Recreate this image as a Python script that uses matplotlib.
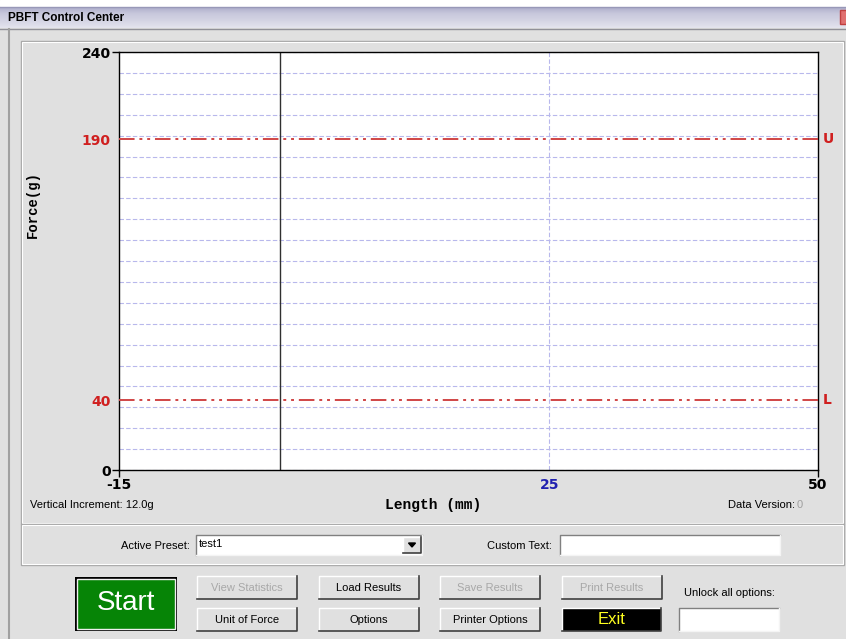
import numpy as np
import matplotlib.pyplot as plt
from matplotlib.patches import Rectangle, Polygon
from matplotlib.colors import LinearSegmentedColormap

# chart values
x_min, x_max = -15, 50
y_min, y_max = 0, 240
vertical_increment = 12
upper_limit = 190
lower_limit = 40
zero_line = 0
marker_x = 25
y_tick_values = [0, 40, 190, 240]
y_tick_colors = ['black', '#d02020', '#d02020', 'black']
x_tick_values = [-15, 25, 50]
x_tick_colors = ['black', '#2020b0', 'black']

W, H = 846, 639
BG = '#e0e0e0'

fig = plt.figure(figsize=(W / 100, H / 100), dpi=100, facecolor=BG)

# window chrome, drawn in pixel coordinates
bg = fig.add_axes([0, 0, 1, 1], zorder=0)
bg.set_xlim(0, W)
bg.set_ylim(H, 0)
bg.axis('off')

title_cmap = LinearSegmentedColormap.from_list(
    'title', ['#a8a8c8', '#c8c8dc', '#d4d4e4', '#e4e4ee'])
grad = np.linspace(0, 1, 50).reshape(-1, 1)
bg.imshow(grad, extent=[0, W, 28, 6], cmap=title_cmap, aspect='auto', zorder=1)
bg.add_patch(Rectangle((0, 0), W, 6, color='white', zorder=1))
bg.plot([0, W], [6.5, 6.5], color='#9898b8', lw=1, zorder=2)
bg.plot([0, W], [28.5, 28.5], color='#909098', lw=1, zorder=2)
bg.text(8, 18, 'PBFT Control Center', fontsize=8.5, fontweight='bold',
        family='Liberation Sans', va='center', ha='left', color='black', zorder=3)
bg.add_patch(Rectangle((840, 10), 8, 14, fc='#e07070', ec='#c04040', zorder=3))

# outer borders
bg.plot([9, 9], [29, H], color='#a0a0a0', lw=1.5)
bg.add_patch(Rectangle((20.5, 40.5), 823, 483, fill=False, ec='#a8a8a8', lw=1))
bg.add_patch(Rectangle((21.5, 41.5), 821, 481, fill=False, ec='white', lw=0.8))
bg.add_patch(Rectangle((20.5, 523.5), 823, 41, fill=False, ec='#a8a8a8', lw=1))
bg.add_patch(Rectangle((21.5, 524.5), 821, 39, fill=False, ec='white', lw=0.8))

ui_font = 'Liberation Sans'

bg.text(30, 505, 'Vertical Increment: %.1fg' % vertical_increment, fontsize=8,
        family=ui_font, va='center', ha='left')
bg.text(795, 505, 'Data Version:', fontsize=8, family=ui_font, va='center', ha='right')
bg.text(797, 505, '0', fontsize=8, family=ui_font, va='center', ha='left', color='#a0a0a0')


def sunken(x, y, w, h):
    bg.add_patch(Rectangle((x, y), w, h, fc='white', ec='none'))
    bg.plot([x, x, x + w], [y + h, y, y], color='#808080', lw=1)
    bg.plot([x, x + w, x + w], [y + h, y + h, y], color='#f4f4f4', lw=1)


def button(x, y, w, h, label, fc=BG, color='black', size=8, enabled=True):
    bg.add_patch(Rectangle((x, y), w, h, fc=fc, ec='none'))
    bg.plot([x, x, x + w], [y + h, y, y], color='white', lw=1)
    bg.plot([x, x + w, x + w], [y + h, y + h, y], color='#404040', lw=1.2)
    if not enabled:
        color = '#a8a8a8'
    bg.text(x + w / 2, y + h / 2 + 0.5, label, fontsize=size, family=ui_font,
            ha='center', va='center', color=color)


# preset row
bg.text(190, 546, 'Active Preset:', fontsize=8, family=ui_font, ha='right', va='center')
sunken(196, 535, 226, 20)
bg.text(199, 544, 'test1', fontsize=8, family=ui_font, ha='left', va='center')
button(403, 537, 18, 16, '')
bg.add_patch(Polygon([[408.5, 543], [415.5, 543], [412, 547]], color='black'))
bg.text(552, 546, 'Custom Text:', fontsize=8, family=ui_font, ha='right', va='center')
sunken(560, 535, 220, 20)

# button block
bg.add_patch(Rectangle((75, 577), 102, 54, fc='black', ec='none'))
bg.add_patch(Rectangle((77, 579), 98, 50, fc='#068406', ec='#f0f0f0', lw=1))
bg.text(126, 603, 'Start', fontsize=20, family=ui_font, color='white',
        ha='center', va='center')

button(197, 576, 100, 23, 'View Statistics', enabled=False)
button(197, 608, 100, 23, 'Unit of Force')
button(319, 576, 100, 23, 'Load Results')
button(319, 608, 100, 23, 'Options')
button(440, 576, 100, 23, 'Save Results', enabled=False)
button(440, 608, 100, 23, 'Printer Options')
button(562, 576, 100, 23, 'Print Results', enabled=False)
button(562, 608, 99, 23, '', fc='black')
bg.add_patch(Rectangle((564, 610), 95, 19, fc='black', ec='none'))
bg.text(612, 620, 'Exit', fontsize=12, family=ui_font, color='#ffff20',
        ha='center', va='center')
bg.text(684, 593, 'Unlock all options:', fontsize=8, family=ui_font,
        ha='left', va='center')
sunken(679, 608, 100, 23)

# the chart itself
ax = fig.add_axes([119 / W, 1 - 470 / H, 699 / W, 418 / H], zorder=1)
ax.set_facecolor('white')
ax.set_xlim(x_min, x_max)
ax.set_ylim(y_min, y_max)

for v in np.arange(y_min, y_max + 1, vertical_increment):
    ax.axhline(v, color='#b8b8ec', lw=0.8, ls=(0, (4, 2)), zorder=1)
ax.axvline(marker_x, color='#b8b8ec', lw=0.8, ls=(0, (4, 2)), zorder=1)
ax.axvline(zero_line, color='#303030', lw=1, zorder=2)

limit_style = dict(color='#d04545', lw=1.4, ls=(0, (8, 2.5, 1.5, 2.5, 1.5, 2.5)), zorder=3)
ax.axhline(upper_limit, **limit_style)
ax.axhline(lower_limit, **limit_style)
ax.text(1.007, upper_limit, 'U', transform=ax.get_yaxis_transform(), color='#d02020',
        fontsize=10, fontweight='bold', va='center', ha='left', family='DejaVu Sans')
ax.text(1.007, lower_limit, 'L', transform=ax.get_yaxis_transform(), color='#d02020',
        fontsize=10, fontweight='bold', va='center', ha='left', family='DejaVu Sans')

for s in ax.spines.values():
    s.set_color('black')
    s.set_linewidth(1)

ax.set_yticks(y_tick_values)
ax.set_yticklabels([str(v) for v in y_tick_values], fontsize=10, fontweight='bold')
for lbl, c in zip(ax.get_yticklabels(), y_tick_colors):
    lbl.set_color(c)
ax.tick_params(axis='y', length=5, width=1, pad=1, direction='out')
# only the end ticks have tick marks
for t, v in zip(ax.yaxis.get_major_ticks(), y_tick_values):
    if v not in (y_min, y_max):
        t.tick1line.set_visible(False)

ax.set_xticks(x_tick_values)
ax.set_xticklabels([str(v) for v in x_tick_values], fontsize=10, fontweight='bold')
for lbl, c in zip(ax.get_xticklabels(), x_tick_colors):
    lbl.set_color(c)
ax.tick_params(axis='x', length=5, width=1, pad=1, direction='out')
for t, v in zip(ax.xaxis.get_major_ticks(), x_tick_values):
    if v not in (x_min, x_max):
        t.tick1line.set_visible(False)

bg.text(33, 205, 'Force(g)', rotation=90, fontsize=10, fontweight='bold',
        family='Liberation Mono', ha='center', va='center')
bg.text(433, 505, 'Length (mm)', fontsize=10.5, fontweight='bold',
        family='Liberation Mono', ha='center', va='center')

fig.savefig('out.png', dpi=100, facecolor=BG)
